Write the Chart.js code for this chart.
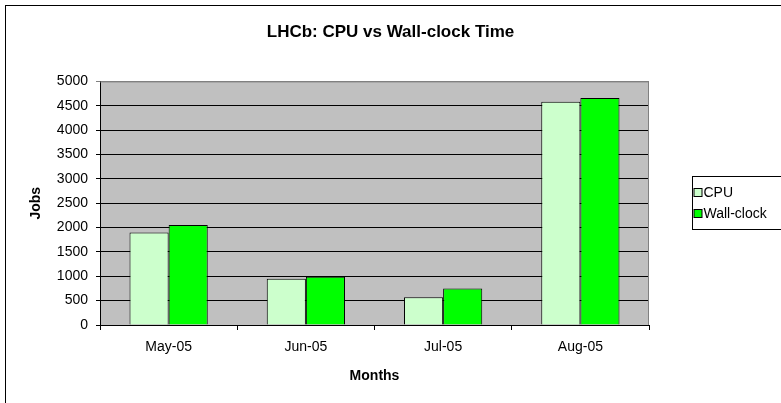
<!DOCTYPE html>
<html>
<head>
<meta charset="utf-8">
<title>LHCb: CPU vs Wall-clock Time</title>
<script src="https://cdn.jsdelivr.net/npm/chart.js@4/dist/chart.umd.min.js"></script>
<style>
  html, body { margin: 0; padding: 0; background: #fff; overflow: hidden; }
  #wrap { position: relative; width: 781px; height: 403px; }
</style>
</head>
<body>
<div id="wrap"><canvas id="chart"></canvas></div>
<script>
// data
const months = ["May-05", "Jun-05", "Jul-05", "Aug-05"]
const cpuJobs = [1900, 950, 570, 4580]
const wallJobs = [2050, 990, 750, 4660]
const yMax = 5000
const yStep = 500

Chart.defaults.font.family = "'Liberation Sans', Arial, sans-serif"
Chart.defaults.color = "#000"

// grey plot area, its grey top/right edge, and the outer frame
const plotBackground = {
    id: "plotBackground",
    beforeDraw(chart) {
        const { ctx, chartArea: a } = chart
        ctx.save()
        ctx.fillStyle = "#c0c0c0"
        ctx.fillRect(a.left, a.top, a.right - a.left, a.bottom - a.top)
        ctx.restore()
    },
    afterDraw(chart) {
        const { ctx, chartArea: a } = chart
        ctx.save()
        ctx.strokeStyle = "#808080"
        ctx.lineWidth = 1
        ctx.beginPath()
        ctx.moveTo(a.left, a.top + 0.5)
        ctx.lineTo(a.right - 0.5, a.top + 0.5)
        ctx.lineTo(a.right - 0.5, a.bottom)
        ctx.stroke()
        // outer chart frame
        ctx.strokeStyle = "#000"
        ctx.strokeRect(5.5, 5.5, 900, 600)
        ctx.restore()
    },
}

// boxed legend to the right, like the spreadsheet one
const boxLegend = {
    id: "boxLegend",
    afterDraw(chart) {
        const { ctx } = chart
        const x = 692.5, y = 176.5
        ctx.save()
        ctx.strokeStyle = "#000"
        ctx.lineWidth = 1
        ctx.strokeRect(x, y, 200, 53)
        ctx.font = "14px 'Liberation Sans', Arial, sans-serif"
        ctx.textBaseline = "middle"
        chart.data.datasets.forEach((ds, i) => {
            const cy = 192.5 + i * 21
            ctx.fillStyle = ds.backgroundColor
            ctx.fillRect(x + 1.5, cy - 4, 8, 8)
            ctx.strokeRect(x + 1.5, cy - 4, 8, 8)
            ctx.fillStyle = "#000"
            ctx.fillText(ds.label, x + 11, cy + 1)
        })
        ctx.restore()
    },
}

new Chart(document.getElementById("chart"), {
    type: "bar",
    data: {
        labels: months,
        datasets: [
            {
                label: "CPU",
                data: cpuJobs,
                backgroundColor: "#ccffcc",
                borderColor: "#000",
                borderWidth: 1,
            },
            {
                label: "Wall-clock",
                data: wallJobs,
                backgroundColor: "#00ff00",
                borderColor: "#000",
                borderWidth: 1,
            },
        ],
    },
    options: {
        responsive: true,
        maintainAspectRatio: false,
        animation: false,
        categoryPercentage: 0.57,
        barPercentage: 1.0,
        layout: {
            padding: 0,
        },
        plugins: {
            legend: { display: false },
            tooltip: { enabled: false },
            title: {
                display: true,
                text: "LHCb: CPU vs Wall-clock Time",
                color: "#000",
                font: { size: 17, weight: "bold" },
                padding: { top: 22, bottom: 39 },
            },
        },
        scales: {
            x: {
                afterFit: (scale) => { scale.height = 78 },
                grid: {
                    offset: true,
                    drawOnChartArea: false,
                    drawTicks: true,
                    tickLength: 5,
                    color: "#000",
                },
                border: { color: "#000" },
                ticks: {
                    font: { size: 14 },
                    color: "#000",
                    padding: 9,
                    maxRotation: 0,
                },
                title: {
                    display: true,
                    text: "Months",
                    color: "#000",
                    font: { size: 14, weight: "bold" },
                    padding: { top: 4, bottom: 18 },
                },
            },
            y: {
                min: 0,
                max: yMax,
                afterFit: (scale) => { scale.width = 100 },
                grid: {
                    color: (c) => (c.tick && c.tick.value === yMax ? "#808080" : "#000"),
                    tickLength: 4,
                    drawTicks: true,
                },
                border: { color: "#000" },
                ticks: {
                    stepSize: yStep,
                    font: { size: 14 },
                    color: "#000",
                    padding: 8,
                    callback: (v) => String(v),
                },
                title: {
                    display: true,
                    text: "Jobs",
                    color: "#000",
                    font: { size: 14, weight: "bold" },
                    padding: { top: 28, bottom: 0 },
                },
            },
            // empty right-hand strip that holds room for the legend box
            legendSpace: {
                type: "linear",
                position: "right",
                afterFit: (scale) => { scale.width = 132 },
                grid: { display: false },
                border: { display: false },
                ticks: { display: false },
            },
        },
    },
    plugins: [plotBackground, boxLegend],
})
</script>
</body>
</html>
